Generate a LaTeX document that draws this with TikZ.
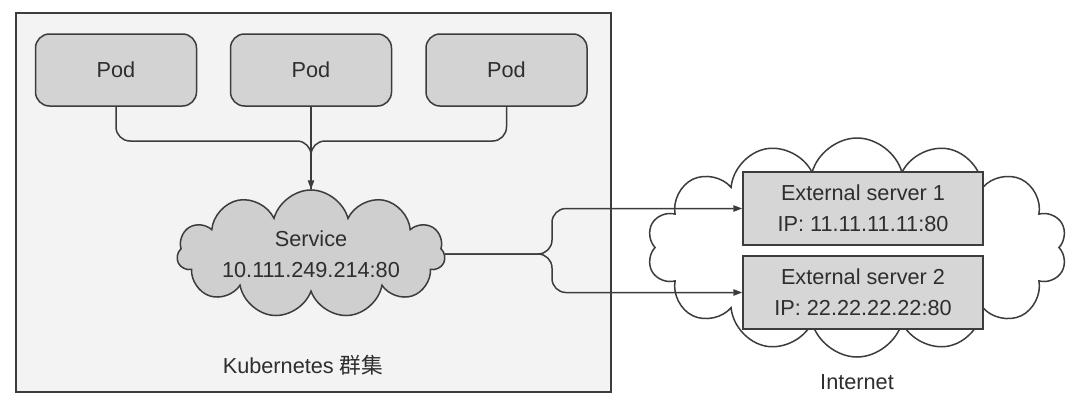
\documentclass[tikz,border=0pt]{standalone}
\usepackage{fontspec}
\setmainfont{Liberation Sans}
\newfontfamily\cjk{Noto Sans CJK SC}
\usetikzlibrary{shapes.symbols,arrows.meta}
\definecolor{edgecol}{HTML}{3C3C3C}
\definecolor{txtcol}{HTML}{2E2E2E}
\definecolor{podfill}{HTML}{D3D3D3}
\definecolor{srvfill}{HTML}{D6D6D6}
\definecolor{svcfill}{HTML}{CFCFCF}
\definecolor{clusterbg}{HTML}{F3F3F3}
\tikzset{
  lbl/.style={font=\fontsize{10.85pt}{15.5pt}\selectfont, text=txtcol, align=center},
  podbox/.style={lbl, draw=edgecol, fill=podfill, line width=0.75pt, rounded corners=7pt,
    minimum width=80.5pt, minimum height=36pt, inner sep=0pt},
  srvbox/.style={lbl, draw=edgecol, fill=srvfill, line width=0.75pt,
    minimum width=120pt, minimum height=36.5pt, inner sep=0pt},
  cloudnode/.style={lbl, cloud, draw=edgecol, line width=0.75pt, inner sep=0pt},
  conn/.style={draw=edgecol, line width=0.75pt, rounded corners=7pt},
  tip/.style={-{Triangle[length=4.5pt,width=3.2pt]}}
}
\begin{document}
\begin{tikzpicture}[x=0.5pt,y=-0.5pt]
\useasboundingbox (0,0) rectangle (1080,412);
\fill[white] (0,0) rectangle (1080,412);
% cluster
\node[draw=edgecol, fill=clusterbg, line width=0.75pt, minimum width=297.5pt, minimum height=189.5pt, inner sep=0pt] (cluster) at (313.5,202.5) {};
% pods
\node[podbox] (p1) at (116,70) {Pod};
\node[podbox] (p2) at (311,70) {Pod};
\node[podbox] (p3) at (506.5,70) {Pod};
% service cloud
\node[cloudnode, fill=svcfill, cloud puffs=11, cloud ignores aspect, minimum width=134pt, minimum height=64pt] (svc) at (311,254) {Service\\10.111.249.214:80};
\node[lbl] (k8s) at (303,365) {Kubernetes {\cjk 群集}};
% internet cloud
\node[cloudnode, fill=white, cloud puffs=14, cloud ignores aspect, minimum width=210pt, minimum height=109.5pt] (inet) at (857,247.5) {};
\node[lbl] (inetlbl) at (857,382) {Internet};
% servers
\node[srvbox] (s1) at (863,208.5) {External server 1\\IP: 11.11.11.11:80};
\node[srvbox] (s2) at (863,292.5) {External server 2\\IP: 22.22.22.22:80};
% connectors
\coordinate (j) at (311,141);
\draw[conn] (p1.south) |- (j) -- (svc.north);
\draw[conn] (p3.south) |- (j) -- (svc.north);
\draw[conn, tip] (p2.south) -- (svc.north);
\coordinate (b) at (552,254);
\draw[conn, tip] (svc.east) -- (b) |- (s1.west);
\draw[conn, tip] (svc.east) -- (b) |- (s2.west);
\end{tikzpicture}
\end{document}
